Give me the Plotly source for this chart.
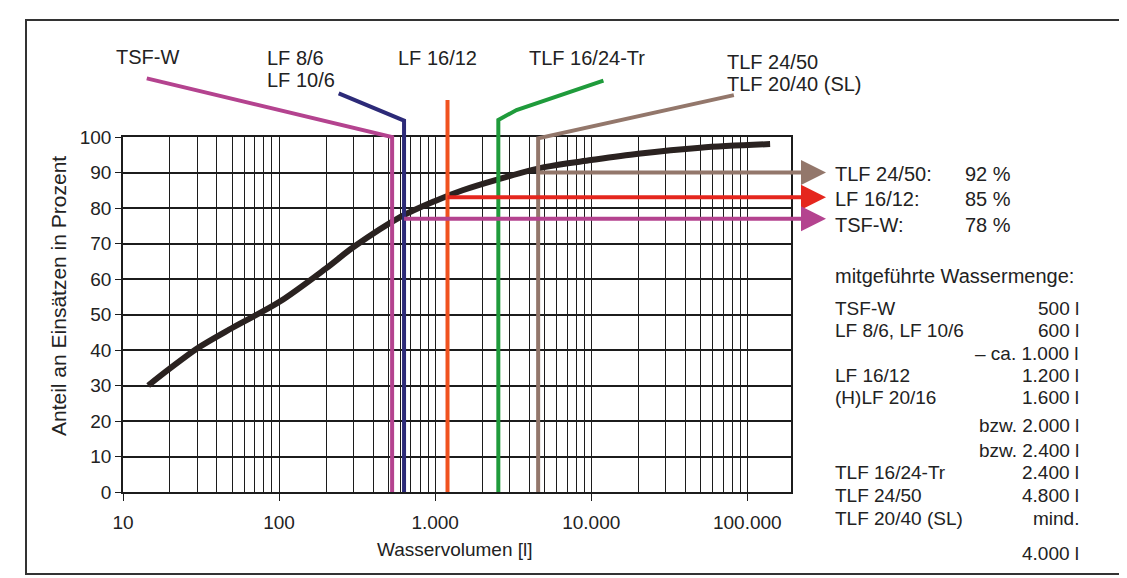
import plotly.graph_objects as go

# ---------------- data ----------------
curve_x = [14.5, 20, 30, 50, 100, 200, 300, 600, 1000, 1500, 2500, 5000, 10000, 20000, 50000, 140000]
curve_y = [30, 34.8, 40.5, 46.2, 53.5, 63, 69, 77.5, 82, 85, 88, 91.5, 93.5, 95.3, 97, 98]

# leader / indicator lines (values above 100 lie above the chart frame)
tsfw_x = [14.2, 530, 530]
tsfw_y = [116.5, 100, 0]
lf86_x = [241, 632, 632]
lf86_y = [112.3, 104.6, 0]
lf1612_x = [1200, 1200]
lf1612_y = [110.4, 0]
tlf1624_x = [11970, 3320, 2540, 2540]
tlf1624_y = [115.9, 107.6, 104.8, 0]
tlf2450_x = [82000, 4570, 4570]
tlf2450_y = [111.8, 99.6, 0]

X_MAX_LOG = 5.28
share_names = ["TLF 24/50:", "LF 16/12:", "TSF-W:"]
share_pct = ["92 %", "85 %", "78 %"]
share_level = [90, 83, 77]          # drawn heights of the arrows
share_start = [4570, 1200, 632]
share_colors = ["#93776b", "#e5261d", "#b4438f"]

x_tick_vals = [10, 100, 1000, 10000, 100000]
x_tick_text = ["10", "100", "1.000", "10.000", "100.000"]
y_tick_vals = list(range(0, 101, 10))

table_names = ["TSF-W", "LF 8/6, LF 10/6", "", "LF 16/12", "(H)LF 20/16", "", "",
               "TLF 16/24-Tr", "TLF 24/50", "TLF 20/40 (SL)", ""]
table_amounts = ["500 l", "600 l", "– ca. 1.000 l", "1.200 l", "1.600 l", "bzw. 2.000 l",
                 "bzw. 2.400 l", "2.400 l", "4.800 l", "mind.", "4.000 l"]
table_py = [308, 330, 353, 375, 397, 425, 450, 472, 495, 518, 553]

# ---------------- geometry (reference pixels, page has an 8px body margin) ----------------
OFF = 8
W, H = 1127 - OFF, 578 - OFF
L, R, T, B = 123 - OFF, 791 - OFF, 40 - OFF, 492 - OFF
TOP100 = 137 - OFF
Y2_MAX = 100 * (B - T) / (B - TOP100)
FONT = "Liberation Sans, Arial, sans-serif"
TXT = "#222222"


def xp(px):
    return (px - OFF - L) / (R - L)


def yp(py):
    return (B - (py - OFF)) / (B - T)


minor_vals = [m * 10 ** d for d in range(1, 6) for m in range(2, 10) if m * 10 ** d <= 10 ** X_MAX_LOG]

fig = go.Figure()

fig.add_trace(go.Scatter(x=curve_x, y=curve_y, mode="lines",
                         line=dict(color="#2a2220", width=6, shape="spline", smoothing=0.9),
                         xaxis="x", yaxis="y", hoverinfo="skip"))

for xs, ys, col in [(tsfw_x, tsfw_y, "#b4438f"), (lf86_x, lf86_y, "#2c2a78"),
                    (lf1612_x, lf1612_y, "#f0521f"), (tlf1624_x, tlf1624_y, "#1f9b3b"),
                    (tlf2450_x, tlf2450_y, "#93776b")]:
    fig.add_trace(go.Scatter(x=xs, y=ys, mode="lines", line=dict(color=col, width=4),
                             xaxis="x2", yaxis="y2", hoverinfo="skip"))

for lvl, st, col in zip(share_level, share_start, share_colors):
    fig.add_trace(go.Scatter(x=[st, 10 ** X_MAX_LOG], y=[lvl, lvl], mode="lines",
                             line=dict(color=col, width=4), xaxis="x2", yaxis="y2", hoverinfo="skip"))

annotations = []
tip_px = 826
for lvl, col in zip(share_level, share_colors):
    annotations.append(dict(x=xp(tip_px), xref="paper", y=lvl, yref="y2", text="", showarrow=True,
                            ax=-(tip_px - 791) - 2, ay=0, arrowhead=2, arrowsize=1.25, arrowwidth=4,
                            arrowcolor=col))

FS = 20
share_py = [174, 199, 225]
for nm, pc, py in zip(share_names, share_pct, share_py):
    annotations.append(dict(x=xp(833), y=yp(py), xref="paper", yref="paper", text=nm, showarrow=False,
                            xanchor="left", yanchor="middle", font=dict(size=FS, color=TXT, family=FONT)))
    annotations.append(dict(x=xp(1013), y=yp(py), xref="paper", yref="paper", text=pc, showarrow=False,
                            xanchor="right", yanchor="middle", font=dict(size=FS, color=TXT, family=FONT)))

top_labels = [("TSF-W", 147, 57, "center"), ("LF 8/6", 265, 58, "left"), ("LF 10/6", 265, 80, "left"),
              ("LF 16/12", 396, 58, "left"), ("TLF 16/24-Tr", 527, 58, "left"),
              ("TLF 24/50", 725, 62, "left"), ("TLF 20/40 (SL)", 725, 84, "left")]
for txt, px, py, anc in top_labels:
    annotations.append(dict(x=xp(px), y=yp(py), xref="paper", yref="paper", text=txt, showarrow=False,
                            xanchor=anc, yanchor="middle", font=dict(size=FS, color=TXT, family=FONT)))

annotations.append(dict(x=xp(833), y=yp(276), xref="paper", yref="paper", text="mitgeführte Wassermenge:",
                        showarrow=False, xanchor="left", yanchor="middle",
                        font=dict(size=FS, color=TXT, family=FONT)))
for nm, am, py in zip(table_names, table_amounts, table_py):
    if nm:
        annotations.append(dict(x=xp(833), y=yp(py), xref="paper", yref="paper", text=nm, showarrow=False,
                                xanchor="left", yanchor="middle", font=dict(size=FS - 1, color=TXT, family=FONT)))
    annotations.append(dict(x=xp(1081), y=yp(py), xref="paper", yref="paper", text=am, showarrow=False,
                            xanchor="right", yanchor="middle", font=dict(size=FS - 1, color=TXT, family=FONT)))

annotations.append(dict(x=xp(58), y=yp(296), xref="paper", yref="paper", text="Anteil an Einsätzen in Prozent",
                        textangle=-90, showarrow=False, xanchor="center", yanchor="middle",
                        font=dict(size=21, color=TXT, family=FONT)))
annotations.append(dict(x=xp(455), y=yp(549), xref="paper", yref="paper", text="Wasservolumen [l]",
                        showarrow=False, xanchor="center", yanchor="middle",
                        font=dict(size=19, color=TXT, family=FONT)))

GRID = "#1c1c1c"
fig.update_layout(
    width=W, height=H,
    margin=dict(l=L, r=W - R, t=T, b=H - B),
    paper_bgcolor="white", plot_bgcolor="rgba(0,0,0,0)",
    showlegend=False,
    annotations=annotations,
    font=dict(family=FONT, color=TXT),
    xaxis=dict(type="log", range=[1, X_MAX_LOG], tickvals=x_tick_vals, ticktext=x_tick_text,
               showgrid=True, gridcolor=GRID, gridwidth=1.3,
               minor=dict(tickvals=minor_vals, showgrid=True, gridcolor=GRID, gridwidth=1.1, ticks=""),
               ticks="outside", ticklen=7, tickcolor=GRID, tickwidth=1.3,
               showline=True, linecolor=GRID, linewidth=1.5, mirror=True,
               tickfont=dict(size=19, color=TXT, family=FONT), ticklabelstandoff=5,
               anchor="y", zeroline=False),
    yaxis=dict(range=[0, 100], domain=[0, (B - TOP100) / (B - T)], tickvals=y_tick_vals,
               showgrid=True, gridcolor=GRID, gridwidth=1.7,
               ticks="outside", ticklen=6, tickcolor=GRID, tickwidth=1.3,
               showline=True, linecolor=GRID, linewidth=1.5, mirror=True,
               tickfont=dict(size=19, color=TXT, family=FONT), zeroline=False, anchor="x"),
    xaxis2=dict(type="log", range=[1, X_MAX_LOG], visible=False, showgrid=False, anchor="y2",
                matches="x"),
    yaxis2=dict(range=[0, Y2_MAX], domain=[0, 1], visible=False, showgrid=False, anchor="x2"),
    shapes=[dict(type="rect", xref="paper", yref="paper", x0=xp(26), x1=xp(1124), y0=yp(574), y1=yp(20),
                 line=dict(color="#333333", width=2), layer="below")],
)

fig.write_html("out.html")
